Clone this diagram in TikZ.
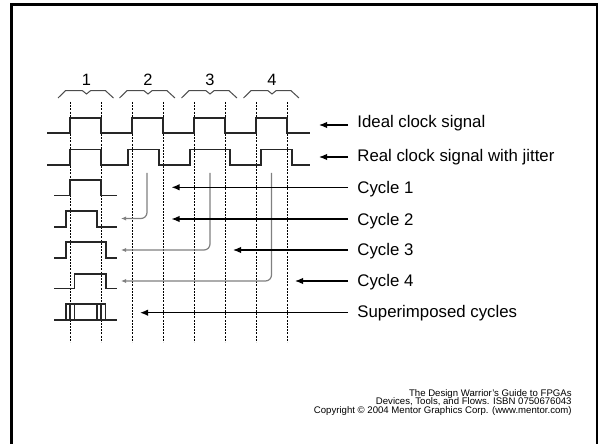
\documentclass[tikz,border=0pt]{standalone}
\usepackage{fontspec}
\setmainfont{Liberation Sans}
\usepackage{tikz}
\usetikzlibrary{arrows.meta}
\setlength{\lineskiplimit}{-5pt}
\tikzset{
  wave/.style={draw=black!85, line width=0.8pt},
  gridline/.style={draw=black, line width=0.5pt, dash pattern=on 1pt off 0.6pt},
  brace/.style={draw=black!70, line width=0.5pt},
  cyclenum/.style={inner sep=0pt, anchor=base, font=\fontsize{8.2}{9}\selectfont},
  tag/.style={anchor=base west, inner xsep=4.5pt, inner ysep=0pt, font=\fontsize{8.4}{10}\selectfont},
  arrow/.style={-{Latex[length=4pt,width=3.2pt]}, line width=0.6pt},
  feed/.style={-{Latex[length=2.6pt,width=2.2pt]}, draw=black!50, line width=0.6pt, rounded corners=3pt},
  footer/.style={anchor=north east, align=right, inner sep=0pt, font=\fontsize{4.8}{4.25}\selectfont}
}

\begin{document}
\begin{tikzpicture}[x=0.5pt, y=-0.5pt]
\useasboundingbox (0,0) rectangle (600,444);
\draw[line width=1.2pt] (11.3,444) -- (11.3,4.5) -- (597,4.5) -- (597,444);

\foreach \x in {70,101,132,163,194,225,256,287}
  \draw[gridline] (\x,102) -- (\x,342);

\foreach \c/\n in {86.5/1,148/2,210/3,272/4} {
  \draw[brace] (\c-28.5,98) -- (\c-21,90.7) -- (\c-4,90.7) -- (\c,94) -- (\c+4,90.7) -- (\c+19,90.7) -- (\c+27,98);
  \node[cyclenum] (num\n) at (\c,86) {\n};
}

\draw[wave] (47,133) -| (70,118) -| (101,133) -| (132,118) -| (163,133) -| (194,118) -| (225,133) -| (256,118) -| (287,133) -- (310,133);
\draw[wave] (47,165) -| (70,149.5) -| (101,165) -| (128,149.5) -| (159,165) -| (190,149.5) -| (230,165) -| (261,149.5) -| (292,165) -- (310,165);
\draw[wave] (54,195.5) -| (70,180) -| (101,195.5) -- (117,195.5);
\draw[wave] (54,226.7) -| (66,211) -| (97,226.7) -- (117,226.7);
\draw[wave] (54,257.7) -| (66,242) -| (105.7,257.7) -- (117,257.7);
\draw[wave] (54,288.3) -| (74.3,273.7) -| (105.7,288.3) -- (117,288.3);
\draw[wave, line width=1.4pt] (54,320) -- (117,320);
\draw[wave] (66,320) |- (105.5,304) -- (105.5,320);
\draw[wave] (70,320) -- (70,304) (74.3,320) -- (74.3,304) (97,320) -- (97,304) (101,320) -- (101,304);

\node[tag] (ideal) at (348,127.3) {Ideal clock signal};
\node[tag] (real) at (348,161.7) {Real clock signal with jitter};
\node[tag] (cyc1) at (348,193.3) {Cycle 1};
\node[tag] (cyc2) at (348,225) {Cycle 2};
\node[tag] (cyc3) at (348,255.7) {Cycle 3};
\node[tag] (cyc4) at (348,286.7) {Cycle 4};
\node[tag] (super) at (348,317.3) {Superimposed cycles};

\coordinate (src2) at (147,173);
\coordinate (src3) at (210,173);
\coordinate (src4) at (271.5,173);
\coordinate (dst2) at (121,218.5);
\coordinate (dst3) at (121,250);
\coordinate (dst4) at (121,281);
\draw[feed] (src2) |- (dst2);
\draw[feed] (src3) |- (dst3);
\draw[feed] (src4) |- (dst4);

\coordinate (tipI) at (319,125);
\coordinate (tipR) at (319,157);
\coordinate (tip1) at (171.5,187.3);
\coordinate (tip2) at (171.5,219);
\coordinate (tip3) at (233,250);
\coordinate (tip4) at (295,281);
\coordinate (tipS) at (140,312.7);
\draw[arrow] (ideal.west |- tipI) -- (tipI);
\draw[arrow] (real.west |- tipR) -- (tipR);
\draw[arrow] (cyc1.west |- tip1) -- (tip1);
\draw[arrow] (cyc2.west |- tip2) -- (tip2);
\draw[arrow] (cyc3.west |- tip3) -- (tip3);
\draw[arrow] (cyc4.west |- tip4) -- (tip4);
\draw[arrow] (super.west |- tipS) -- (tipS);

\node[footer] (credit) at (572,389) {The Design Warrior's Guide to FPGAs\\Devices, Tools, and Flows. ISBN 0750676043\\Copyright \textcopyright{} 2004 Mentor Graphics Corp. (www.mentor.com)};
\end{tikzpicture}
\end{document}
